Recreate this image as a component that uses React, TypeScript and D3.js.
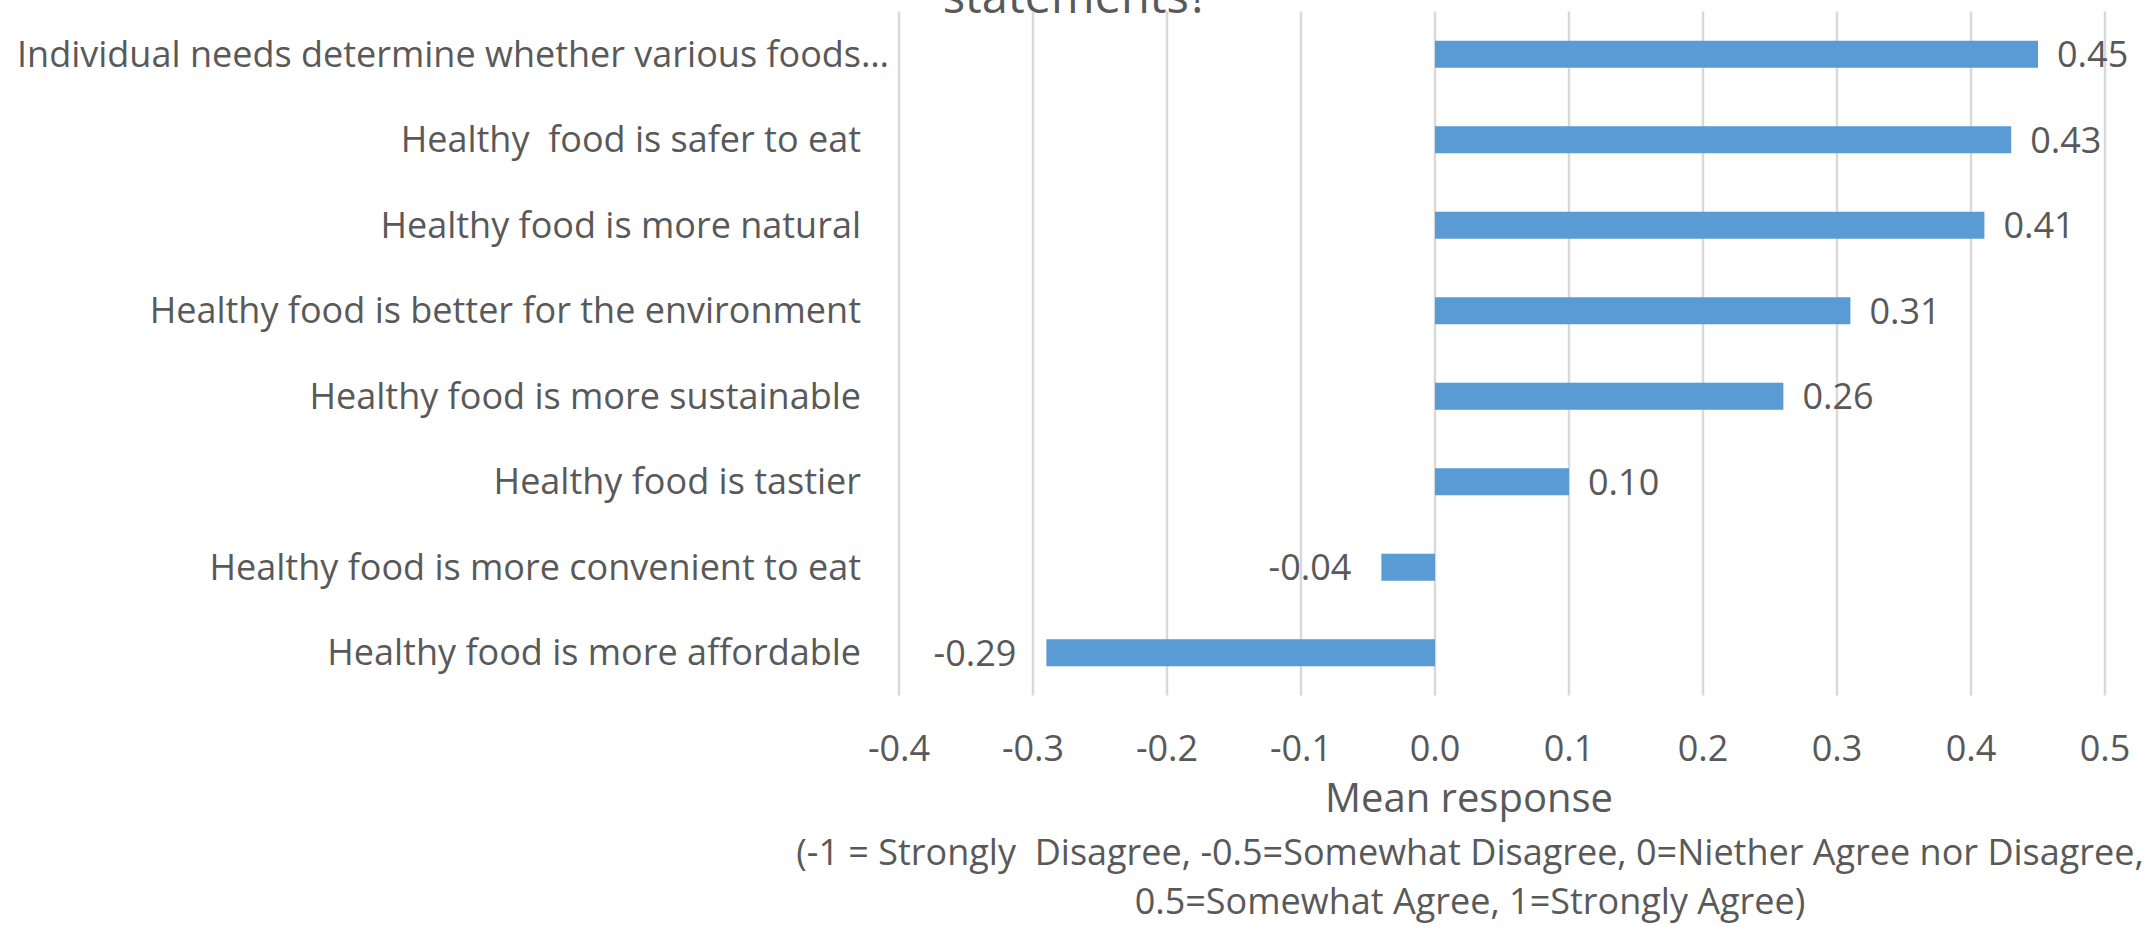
import React from "react";
import * as d3 from "d3";

// Mean agreement per statement (top to bottom as listed)
const categories: string[] = [
  "Individual needs determine whether various foods\u2026",
  "Healthy  food is safer to eat",
  "Healthy food is more natural",
  "Healthy food is better for the environment",
  "Healthy food is more sustainable",
  "Healthy food is tastier",
  "Healthy food is more convenient to eat",
  "Healthy food is more affordable",
];
const meanValues: number[] = [0.45, 0.43, 0.41, 0.31, 0.26, 0.1, -0.04, -0.29];
const axisTicks: number[] = [-0.4, -0.3, -0.2, -0.1, 0, 0.1, 0.2, 0.3, 0.4, 0.5];
const titleTail = "statements?";
const axisTitle = "Mean response";
const axisNote: string[] = [
  "(-1 = Strongly  Disagree, -0.5=Somewhat Disagree, 0=Niether Agree nor Disagree,",
  "0.5=Somewhat Agree, 1=Strongly Agree)",
];

const W = 2152;
const H = 926;
const TEXT = "#595959";
const GRID = "#D9D9D9";
const BAR = "#5B9BD5";
const FONT = "'Open Sans', 'Noto Sans', 'Liberation Sans', sans-serif";

// plain hyphen for negative numbers
const locale = d3.formatLocale({
  decimal: ".",
  thousands: ",",
  grouping: [3],
  currency: ["", ""],
  minus: "-",
});
const fmtTick = locale.format(".1f");
const fmtVal = locale.format(".2f");

const pre: React.CSSProperties = { whiteSpace: "pre" };

export default function App() {
  const x = d3.scaleLinear().domain([-0.4, 0.5]).range([899, 2105]);
  const y = d3
    .scaleBand<string>()
    .domain(categories)
    .range([11.5, 695.5])
    .paddingInner(0.684)
    .paddingOuter(0.342);
  const bw = y.bandwidth();
  const [top, bottom] = y.range();
  const labelRight = 861;

  return (
    <div style={{ position: "absolute", left: 0, top: 0 }}>
      <svg width={W} height={H} style={{ display: "block", background: "#fff" }} fontFamily={FONT}>
        {/* chart title (only its last line falls inside the frame) */}
        <text x={1076} y={13} textAnchor="middle" fontSize={47} fill={TEXT}>
          {titleTail}
        </text>

        {/* vertical gridlines */}
        <g>
          {axisTicks.map((t) => (
            <line
              key={t}
              x1={x(t)}
              x2={x(t)}
              y1={top}
              y2={bottom}
              stroke={GRID}
              strokeWidth={2.5}
            />
          ))}
        </g>

        {/* bars */}
        <g>
          {categories.map((c, i) => {
            const v = meanValues[i];
            const x0 = x(Math.min(0, v));
            const x1 = x(Math.max(0, v));
            return <rect key={c} x={x0} y={y(c)} width={x1 - x0} height={bw} fill={BAR} />;
          })}
        </g>

        {/* category labels; a truncated label keeps its ellipsis past the right edge */}
        <g fontSize={36} fill={TEXT} textAnchor="end">
          {categories.map((c) => (
            <text
              key={c}
              x={c.endsWith("\u2026") ? labelRight + 28 : labelRight}
              y={(y(c) as number) + bw / 2 + 12.5}
              xmlSpace="preserve"
              style={pre}
            >
              {c}
            </text>
          ))}
        </g>

        {/* value labels */}
        <g fontSize={36} fill={TEXT}>
          {categories.map((c, i) => {
            const v = meanValues[i];
            const pos = v >= 0;
            return (
              <text
                key={c}
                x={pos ? x(v) + 19 : x(v) - 30}
                y={(y(c) as number) + bw / 2 + 13}
                textAnchor={pos ? "start" : "end"}
              >
                {fmtVal(v)}
              </text>
            );
          })}
        </g>

        {/* x tick labels */}
        <g fontSize={36} fill={TEXT} textAnchor="middle">
          {axisTicks.map((t) => (
            <text key={t} x={x(t)} y={761}>
              {fmtTick(t)}
            </text>
          ))}
        </g>

        {/* axis title and scale note */}
        <text x={1469} y={812} textAnchor="middle" fontSize={40} fill={TEXT}>
          {axisTitle}
        </text>
        <g fontSize={36} fill={TEXT} textAnchor="middle">
          <text x={1470} y={865} xmlSpace="preserve" style={pre}>
            {axisNote[0]}
          </text>
          <text x={1470} y={914} xmlSpace="preserve" style={pre}>
            {axisNote[1]}
          </text>
        </g>
      </svg>
    </div>
  );
}
